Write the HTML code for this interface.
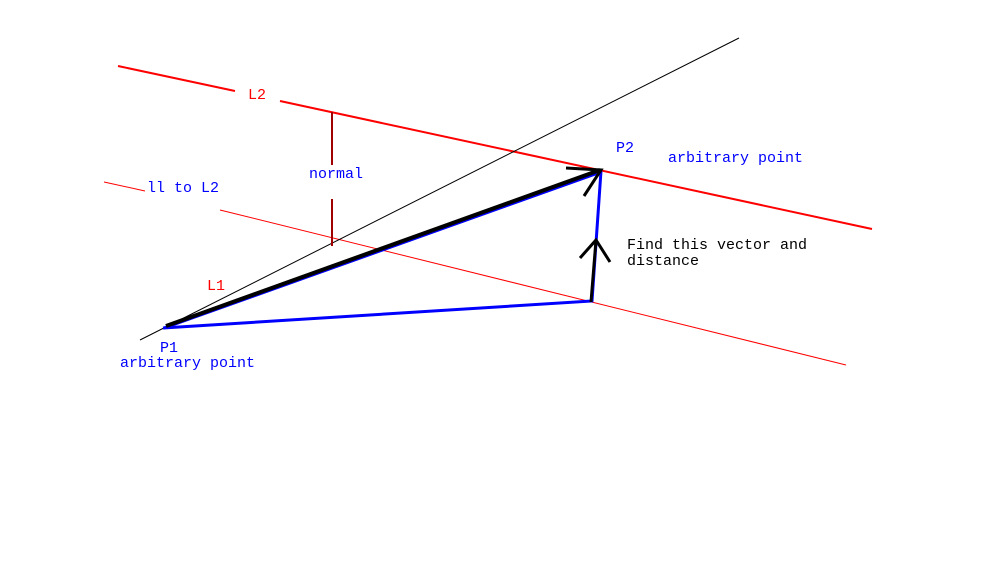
<!DOCTYPE html>
<html><head><style>
html,body{margin:0;padding:0;background:#fff;}
svg text{font-family:"Liberation Mono",monospace;font-size:15px;}
</style></head><body>
<svg width="1001" height="574" xmlns="http://www.w3.org/2000/svg">
<rect width="1001" height="574" fill="#fff"/>
<g stroke="#ff0000" fill="none">
<line x1="118" y1="66" x2="235" y2="91" stroke-width="2"/>
<line x1="280" y1="101" x2="872" y2="229" stroke-width="2"/>
<line x1="104" y1="182" x2="145" y2="191" stroke-width="1"/>
<line x1="220" y1="210" x2="846" y2="365" stroke-width="1"/>
</g>
<line x1="140" y1="340" x2="739" y2="38" stroke="#000" stroke-width="1"/>
<g stroke="#a00000" stroke-width="2">
<line x1="332" y1="112" x2="332" y2="165"/>
<line x1="332" y1="199" x2="332" y2="246"/>
</g>
<polyline points="163,328 592,301 601,171" stroke="#0000ff" stroke-width="3" fill="none"/>
<line x1="164" y1="328" x2="601" y2="172" stroke="#0000ff" stroke-width="3"/>
<line x1="166" y1="326" x2="600" y2="170" stroke="#000" stroke-width="4"/>
<g stroke="#000" stroke-width="3" fill="none">
<polyline points="566,168 601,170 584,196"/>
<line x1="591" y1="302" x2="596" y2="240"/>
<polyline points="580,258 596,240 610,262"/>
</g>
<g fill="#0000ff">
<text x="309" y="178">normal</text>
<text x="147" y="192">ll to L2</text>
<text x="160" y="352">P1</text>
<text x="120" y="367">arbitrary point</text>
<text x="616" y="152">P2</text>
<text x="668" y="162">arbitrary point</text>
</g>
<g fill="#ff0000">
<text x="248" y="99">L2</text>
<text x="207" y="290">L1</text>
</g>
<g fill="#000">
<text x="627" y="249">Find this vector and</text>
<text x="627" y="265">distance</text>
</g>
</svg>
</body></html>
